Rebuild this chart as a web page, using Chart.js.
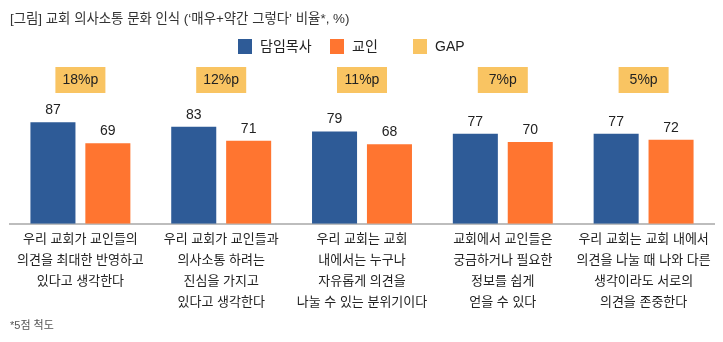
<!DOCTYPE html>
<html>
<head>
<meta charset="utf-8">
<script src="https://cdn.jsdelivr.net/npm/chart.js@4"></script>
<style>
  html, body { margin: 0; padding: 0; background: #fff; }
  #wrap { width: 723px; height: 342px; position: relative; }
</style>
</head>
<body>
<div id="wrap"><canvas id="chart" width="723" height="342"></canvas></div>
<script>
// Data
const categories = [
    ['우리 교회가 교인들의', '의견을 최대한 반영하고', '있다고 생각한다'],
    ['우리 교회가 교인들과', '의사소통 하려는', '진심을 가지고', '있다고 생각한다'],
    ['우리 교회는 교회', '내에서는 누구나', '자유롭게 의견을', '나눌 수 있는 분위기이다'],
    ['교회에서 교인들은', '궁금하거나 필요한', '정보를 쉽게', '얻을 수 있다'],
    ['우리 교회는 교회 내에서', '의견을 나눌 때 나와 다른', '생각이라도 서로의', '의견을 존중한다']
];
const pastorValues = [87, 83, 79, 77, 77];
const memberValues = [69, 71, 68, 70, 72];
const gapLabels = ['18%p', '12%p', '11%p', '7%p', '5%p'];

const FONT = '"Liberation Sans", "Noto Sans CJK KR", sans-serif';
const BLUE = '#2E5B97';
const ORANGE = '#FF7530';
const GAP = '#F9C462';

// Draws title, legend, gap boxes, value labels and footnote
const decorPlugin = {
    id: 'decor',
    afterDatasetsDraw(chart) {
        const ctx = chart.ctx;
        const x = chart.scales.x;
        ctx.save();

        // title
        ctx.fillStyle = '#333';
        ctx.font = '13.4px ' + FONT;
        ctx.textAlign = 'left';
        ctx.textBaseline = 'middle';
        ctx.fillText("[그림] 교회 의사소통 문화 인식 (‘매우+약간 그렇다’ 비율*, %)", 10, 19);

        // legend
        const items = [['담임목사', BLUE, 238], ['교인', ORANGE, 330], ['GAP', GAP, 413]];
        items.forEach(([label, color, lx]) => {
            ctx.fillStyle = color;
            ctx.fillRect(lx, 39, 14, 15);
            ctx.fillStyle = '#222';
            ctx.font = '14px ' + FONT;
            ctx.fillText(label, lx + 22, 47);
        });

        // gap boxes
        gapLabels.forEach((g, i) => {
            const cx = x.getPixelForValue(i);
            ctx.fillStyle = GAP;
            ctx.fillRect(cx - 25, 67, 50, 26);
            ctx.fillStyle = '#222';
            ctx.font = '14px ' + FONT;
            ctx.textAlign = 'center';
            ctx.fillText(g, cx, 80.5);
        });

        // value labels
        chart.data.datasets.forEach((ds, di) => {
            const meta = chart.getDatasetMeta(di);
            meta.data.forEach((bar, i) => {
                if (ds.data[i] == null) return;
                ctx.fillStyle = '#222';
                ctx.font = '14px ' + FONT;
                ctx.textAlign = 'center';
                ctx.textBaseline = 'bottom';
                ctx.fillText(ds.data[i], bar.x, bar.y - 5);
            });
        });

        // footnote
        ctx.fillStyle = '#555';
        ctx.font = '11px ' + FONT;
        ctx.textAlign = 'left';
        ctx.textBaseline = 'middle';
        ctx.fillText('*5점 척도', 10, 326);

        ctx.restore();
    }
};

new Chart(document.getElementById('chart'), {
    type: 'bar',
    data: {
        labels: categories,
        datasets: [{
            label: '담임목사',
            data: pastorValues,
            backgroundColor: BLUE,
            categoryPercentage: 0.78,
            barPercentage: 0.82
        }, {
            label: '교인',
            data: memberValues,
            backgroundColor: ORANGE,
            categoryPercentage: 0.78,
            barPercentage: 0.82
        }]
    },
    options: {
        responsive: false,
        animation: false,
        layout: {
            padding: { top: 107, left: 10, right: 9, bottom: 24 }
        },
        plugins: {
            legend: { display: false },
            tooltip: { enabled: false }
        },
        scales: {
            y: {
                display: false,
                min: 0,
                max: 100
            },
            x: {
                grid: { display: false, drawTicks: false },
                border: { display: true, color: '#BDBDBD', width: 2 },
                ticks: {
                    color: '#222',
                    padding: 5,
                    maxRotation: 0,
                    autoSkip: false,
                    font: { family: FONT, size: 13, lineHeight: 1.62 }
                }
            }
        }
    },
    plugins: [decorPlugin]
});
</script>
</body>
</html>
